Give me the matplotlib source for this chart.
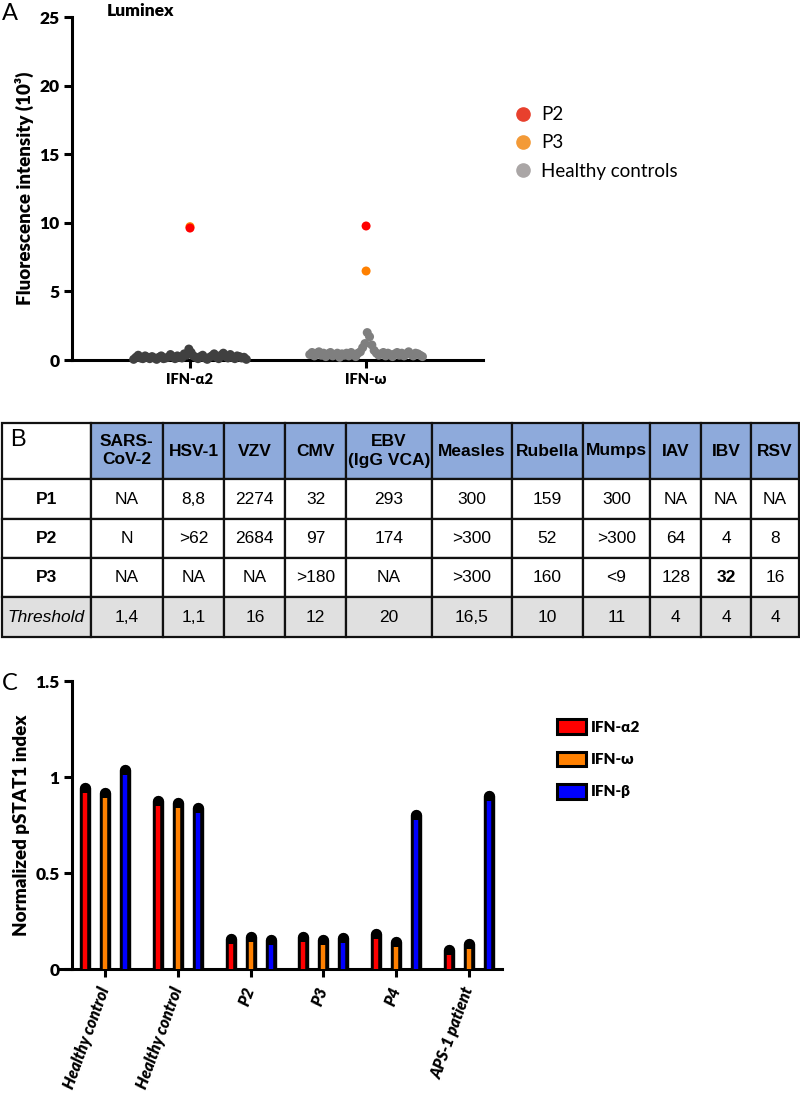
import numpy as np
import matplotlib
matplotlib.use("Agg")
import matplotlib.pyplot as plt
from matplotlib.lines import Line2D
from matplotlib.patches import Patch
from matplotlib.font_manager import FontProperties

FIG_FONT = ['Lato', 'DejaVu Sans']
TABLE_FONT = ['Liberation Sans', 'DejaVu Sans']
plt.rcParams['font.family'] = FIG_FONT
HEAVY = 'heavy'

# ---- panel A: Luminex ----
luminex_groups = ['IFN-\u03b12', 'IFN-\u03c9']
# healthy controls, read left to right across each cluster
hc_ifna2 = [0.05, 0.2, 0.35, 0.15, 0.1, 0.3, 0.2, 0.1, 0.25, 0.15, 0.05, 0.2, 0.3,
            0.1, 0.15, 0.2, 0.4, 0.25, 0.1, 0.3, 0.2, 0.15, 0.45, 0.35, 0.8, 0.55,
            0.3, 0.2, 0.1, 0.25, 0.35, 0.15, 0.05, 0.2, 0.3, 0.45, 0.2, 0.1, 0.35,
            0.5, 0.25, 0.15, 0.4, 0.2, 0.1, 0.3, 0.25, 0.15, 0.2, 0.05]
hc_ifnw = [0.4, 0.55, 0.3, 0.5, 0.6, 0.35, 0.5, 0.25, 0.45, 0.55, 0.3, 0.4, 0.5,
           0.2, 0.45, 0.35, 0.5, 0.3, 0.55, 0.4, 0.25, 0.5, 0.6, 0.9, 1.2, 2.0,
           1.7, 1.1, 0.7, 0.5, 0.35, 0.45, 0.55, 0.3, 0.5, 0.4, 0.25, 0.45, 0.55,
           0.35, 0.5, 0.3, 0.45, 0.6, 0.4, 0.3, 0.5, 0.45, 0.35, 0.25]
p2_luminex = [9.62, 9.77]
p3_luminex = [9.72, 6.49]
luminex_yticks = [0, 5, 10, 15, 20, 25]

# ---- panel B: serology table ----
table_header = ['', 'SARS-\nCoV-2', 'HSV-1', 'VZV', 'CMV', 'EBV\n(IgG VCA)',
                'Measles', 'Rubella', 'Mumps', 'IAV', 'IBV', 'RSV']
table_rows = ['P1', 'P2', 'P3', 'Threshold']
vals_p1 = ['NA', '8,8', '2274', '32', '293', '300', '159', '300', 'NA', 'NA', 'NA']
vals_p2 = ['N', '>62', '2684', '97', '174', '>300', '52', '>300', '64', '4', '8']
vals_p3 = ['NA', 'NA', 'NA', '>180', 'NA', '>300', '160', '<9', '128', '32', '16']
vals_threshold = ['1,4', '1,1', '16', '12', '20', '16,5', '10', '11', '4', '4', '4']

# ---- panel C: pSTAT1 ----
pstat_samples = ['Healthy control', 'Healthy control', 'P2', 'P3', 'P4', 'APS-1 patient']
pstat_ifna2 = [0.943, 0.875, 0.155, 0.165, 0.180, 0.099]
pstat_ifnw = [0.918, 0.863, 0.165, 0.151, 0.142, 0.130]
pstat_ifnb = [1.035, 0.837, 0.151, 0.161, 0.800, 0.900]
pstat_names = ['IFN-\u03b12', 'IFN-\u03c9', 'IFN-\u03b2']
pstat_yticks = [0, 0.5, 1, 1.5]
pstat_ytick_labels = ['0', '0.5', '1', '1.5']


def style_axes(ax):
    for s in ['top', 'right']:
        ax.spines[s].set_visible(False)
    for s in ['left', 'bottom']:
        ax.spines[s].set_linewidth(2.2)
    ax.tick_params(width=2.2, length=5.5, direction='out')


fig = plt.figure(figsize=(8, 11), dpi=100)

# ================= A =================
axA = fig.add_axes([0.09, 0.6727, 0.514, 0.3118])
hc_colors = ['#404040', '#7f7f7f']
for i, vals in enumerate([hc_ifna2, hc_ifnw]):
    offs = np.linspace(-0.32, 0.32, len(vals))
    axA.scatter(i + 1 + offs, vals, s=42, color=hc_colors[i], edgecolors='none',
                clip_on=False, zorder=3)
grp_x = np.arange(1, len(luminex_groups) + 1)
axA.scatter(grp_x, p3_luminex, s=42, color='#ff8000', edgecolors='none', zorder=4)
axA.scatter(grp_x, p2_luminex, s=42, color='#ff0000', edgecolors='none', zorder=5)
axA.set_xlim(0.33, 2.665)
axA.set_ylim(0, 25)
axA.set_yticks(luminex_yticks, labels=[str(v) for v in luminex_yticks],
               fontsize=12.5, fontweight=HEAVY)
axA.set_xticks(grp_x, labels=luminex_groups, fontsize=10.5, fontweight=HEAVY)
style_axes(axA)
axA.set_ylabel('Fluorescence intensity (10\u00b3)', fontsize=13.5, fontweight=HEAVY,
               labelpad=4)
axA.text(0.53, 25.45, 'Luminex', fontsize=12.5, fontweight=HEAVY, va='center',
         ha='left')

legA = [Line2D([], [], ls='none', marker='o', ms=9.5, color='#e8402d', label='P2'),
        Line2D([], [], ls='none', marker='o', ms=9.5, color='#f39a37', label='P3'),
        Line2D([], [], ls='none', marker='o', ms=9.5, color='#aaa6a6', label='Healthy controls')]
fig.legend(handles=legA, loc='center left', bbox_to_anchor=(514 / 800, 1 - 143 / 1100),
           frameon=False, fontsize=13.5, handlelength=1.0, handletextpad=0.45,
           labelspacing=0.6, borderpad=0, borderaxespad=0)

fig.text(2 / 800, 1 - 13 / 1100, 'A', fontsize=17, va='center', ha='left')

# ================= B =================
axB = fig.add_axes([2 / 800, 1 - 637 / 1100, 797 / 800, 214 / 1100])
axB.axis('off')
cell_text = [table_header]
for name, row in zip(table_rows, [vals_p1, vals_p2, vals_p3, vals_threshold]):
    cell_text.append([name] + row)
tbl = axB.table(cellText=cell_text, cellLoc='center', bbox=[0, 0, 1, 1])
tbl.auto_set_font_size(False)
col_w = [89, 72, 62, 61, 61, 86, 80, 71, 68, 51, 50, 48]
row_h = [56, 40, 39, 39, 40]
for (r, c), cell in tbl.get_celld().items():
    cell.set_width(col_w[c])
    cell.set_height(row_h[r])
    cell.set_linewidth(1.6)
    cell.set_edgecolor('#111111')
    weight, style = 'normal', 'normal'
    if r == 0:
        if c > 0:
            cell.set_facecolor('#8eaadb')
        weight = 'bold'
    elif r == len(row_h) - 1:
        cell.set_facecolor('#e0e0e0')
        if c == 0:
            style = 'italic'
    if r in (1, 2, 3) and c == 0:
        weight = 'bold'
    if cell_text[r][c] == '32' and table_header[c] == 'IBV':
        weight = 'bold'
    t = cell.get_text()
    t.set_fontproperties(FontProperties(family=TABLE_FONT, size=12.5,
                                        weight=weight, style=style))
    t.set_linespacing(1.25)
fig.text(10 / 800, 1 - 440 / 1100, 'B', fontsize=17, va='center', ha='left',
         family=TABLE_FONT)

# ================= C =================
axC = fig.add_axes([60 / 800, 1 - 969 / 1100, 442 / 800, 288 / 1100])
series = [pstat_ifna2, pstat_ifnw, pstat_ifnb]
bar_colors = ['#ff0000', '#ff8000', '#0000ff']
bar_offsets = [-0.275, 0.0, 0.275]
gx = np.arange(len(pstat_samples))
for vals, col, off in zip(series, bar_colors, bar_offsets):
    for x, v in zip(gx + off, vals):
        axC.plot([x, x], [0, v], color='black', lw=8.2, solid_capstyle='round', zorder=2)
        axC.plot([x, x], [0, v - 0.026], color=col, lw=3.2, solid_capstyle='butt', zorder=3)
axC.set_xlim(-0.618, 5.453)
axC.set_ylim(0, 1.5)
axC.spines['left'].set_position(('axes', 12 / 442))
axC.set_yticks(pstat_yticks, labels=pstat_ytick_labels, fontsize=12.5, fontweight=HEAVY)
axC.set_xticks(gx, labels=pstat_samples, rotation=70, ha='right', va='center',
               rotation_mode='anchor', fontsize=11.5, fontweight=HEAVY,
               fontstyle='italic')
style_axes(axC)
axC.tick_params(axis='x', pad=8)
axC.set_ylabel('Normalized pSTAT1 index', fontsize=13.5, fontweight=HEAVY, labelpad=4)

legC = [Patch(facecolor=c, edgecolor='black', linewidth=2.2, label=n)
        for c, n in zip(bar_colors, pstat_names)]
fig.legend(handles=legC, loc='center left', bbox_to_anchor=(557 / 800, 1 - 759 / 1100),
           frameon=False, prop={'weight': HEAVY, 'size': 11, 'family': FIG_FONT},
           handlelength=1.9, handleheight=1.1, handletextpad=0.35, labelspacing=1.15,
           borderpad=0, borderaxespad=0)

fig.text(2 / 800, 1 - 683 / 1100, 'C', fontsize=17, va='center', ha='left')

fig.savefig('out.png', dpi=100)
